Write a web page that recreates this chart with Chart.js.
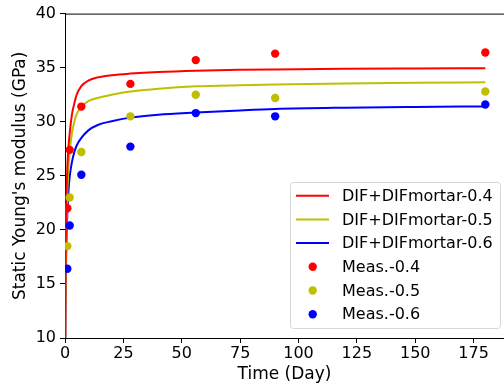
<!DOCTYPE html>
<html>
<head>
<meta charset="utf-8">
<script src="https://cdn.jsdelivr.net/npm/chart.js@4"></script>
<style>
  html, body { margin: 0; padding: 0; background: #fff; }
</style>
</head>
<body>
<canvas id="chart" width="504" height="389"></canvas>
<script>
// fitted curves
const fitDays = [0.05, 0.1, 0.2, 0.3, 0.5, 0.75, 1, 1.5, 2, 3, 4, 5, 7, 10, 14, 20, 28, 40, 56, 75, 90, 120, 150, 180];
const fit04 = [4.5, 9.5, 15.0, 18.2, 21.8, 24.2, 25.8, 27.7, 28.9, 30.7, 31.7, 32.5, 33.3, 33.8, 34.1, 34.3, 34.45, 34.6, 34.72, 34.8, 34.84, 34.9, 34.93, 34.95];
const fit05 = [4.0, 8.0, 12.5, 15.5, 19.0, 21.8, 23.6, 25.8, 27.2, 29.0, 30.0, 30.7, 31.35, 31.9, 32.2, 32.5, 32.8, 33.05, 33.27, 33.38, 33.44, 33.53, 33.6, 33.65];
const fit06 = [5.0, 8.5, 12.3, 14.8, 17.6, 19.9, 21.4, 23.6, 24.9, 26.3, 27.2, 27.8, 28.5, 29.2, 29.7, 30.05, 30.38, 30.65, 30.85, 31.05, 31.18, 31.3, 31.37, 31.42];

// measurements
const measDays = [1, 2, 7, 28, 56, 90, 180];
const meas04 = [22.0, 27.4, 31.4, 33.5, 35.7, 36.3, 36.4];
const meas05 = [18.5, 23.0, 27.2, 30.5, 32.5, 32.2, 32.8];
const meas06 = [16.4, 20.4, 25.1, 27.7, 30.8, 30.5, 31.6];

const xTicks = [0, 25, 50, 75, 100, 125, 150, 175];
const yTicks = [10, 15, 20, 25, 30, 35, 40];

const RED = '#ff0000', OLIVE = '#bfbf00', BLUE = '#0000ff';
const FONT = "'DejaVu Sans', sans-serif";

const toXY = (xs, ys) => xs.map((x, i) => ({ x: x, y: ys[i] }));

function fitSet(label, ys, color) {
    return {
        type: 'line', label: label, data: toXY(fitDays, ys),
        borderColor: color, borderWidth: 2, pointRadius: 0,
        cubicInterpolationMode: 'monotone', fill: false, order: 1, clip: 0
    };
}
function measSet(label, ys, color) {
    return {
        type: 'scatter', label: label, data: toXY(measDays, ys),
        backgroundColor: color, borderColor: color, borderWidth: 0,
        pointRadius: 4.2, order: 0, clip: 0
    };
}

// frame + legend in the lower right of the plot
const boxPlugin = {
    id: 'boxPlugin',
    afterDraw(chart) {
        const ctx = chart.ctx;
        const a = chart.chartArea;
        ctx.save();
        ctx.strokeStyle = '#000';
        ctx.lineWidth = 1;
        ctx.beginPath();
        ctx.moveTo(a.left, a.top + 0.5);
        ctx.lineTo(a.right, a.top + 0.5);
        ctx.stroke();

        const bx = 290.5, by = 182.5, bw = 210, bh = 146, r = 3;
        ctx.beginPath();
        ctx.moveTo(bx + r, by);
        ctx.arcTo(bx + bw, by, bx + bw, by + bh, r);
        ctx.arcTo(bx + bw, by + bh, bx, by + bh, r);
        ctx.arcTo(bx, by + bh, bx, by, r);
        ctx.arcTo(bx, by, bx + bw, by, r);
        ctx.closePath();
        ctx.fillStyle = 'rgba(255,255,255,0.8)';
        ctx.fill();
        ctx.strokeStyle = '#d6d6d6';
        ctx.stroke();

        ctx.font = '16px ' + FONT;
        ctx.textBaseline = 'middle';
        ctx.textAlign = 'left';
        chart.data.datasets.forEach((ds, i) => {
            const cy = 195.7 + i * 23.7;
            const color = ds.borderColor;
            if (ds.type === 'line') {
                ctx.strokeStyle = color;
                ctx.lineWidth = 2;
                ctx.beginPath();
                ctx.moveTo(296, cy);
                ctx.lineTo(329, cy);
                ctx.stroke();
            } else {
                ctx.fillStyle = color;
                ctx.beginPath();
                ctx.arc(312.7, cy, 4.2, 0, Math.PI * 2);
                ctx.fill();
            }
            ctx.fillStyle = '#000';
            ctx.fillText(ds.label, 342, cy + 1);
        });
        ctx.restore();
    }
};

new Chart(document.getElementById('chart'), {
    data: {
        datasets: [
            fitSet('DIF+DIFmortar-0.4', fit04, RED),
            fitSet('DIF+DIFmortar-0.5', fit05, OLIVE),
            fitSet('DIF+DIFmortar-0.6', fit06, BLUE),
            measSet('Meas.-0.4', meas04, RED),
            measSet('Meas.-0.5', meas05, OLIVE),
            measSet('Meas.-0.6', meas06, BLUE)
        ]
    },
    options: {
        responsive: false,
        animation: false,
        layout: { padding: { top: 7, right: 0, left: 0, bottom: 0 }, autoPadding: false },
        plugins: { legend: { display: false }, tooltip: { enabled: false } },
        scales: {
            x: {
                type: 'linear', min: 0, max: 188,
                afterBuildTicks: s => { s.ticks = xTicks.map(v => ({ value: v })); },
                afterFit: s => { s.height = 51; },
                grid: { drawOnChartArea: false, tickLength: 5, tickColor: '#000' },
                border: { color: '#000', width: 1 },
                ticks: { color: '#000', font: { family: FONT, size: 16 }, padding: 1, maxRotation: 0 },
                title: { display: true, text: 'Time (Day)', color: '#000', font: { family: FONT, size: 17 }, padding: { bottom: 4 } }
            },
            y: {
                type: 'linear', min: 10, max: 40,
                afterBuildTicks: s => { s.ticks = yTicks.map(v => ({ value: v })); },
                afterFit: s => { s.width = 65; },
                grid: { drawOnChartArea: false, tickLength: 5, tickColor: '#000' },
                border: { color: '#000', width: 1 },
                ticks: { color: '#000', font: { family: FONT, size: 16 }, padding: 4 },
                title: { display: true, text: "Static Young's modulus (GPa)", color: '#000', font: { family: FONT, size: 17 }, padding: { top: 10 } }
            }
        }
    },
    plugins: [boxPlugin]
});
</script>
</body>
</html>
